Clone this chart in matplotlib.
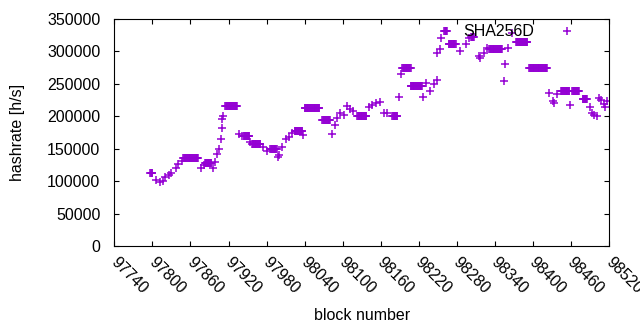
import numpy as np
import matplotlib
matplotlib.use('Agg')
from matplotlib import pyplot as plt
from matplotlib.transforms import ScaledTranslation

# plateaus: consecutive blocks with the same hashrate
plateau_start = [97797, 97849, 97883, 97915, 97944, 97957, 97986, 98024, 98040, 98068,
                 98123, 98178, 98194, 98207, 98260, 98267, 98302, 98331, 98373, 98394,
                 98444, 98462, 98478]
plateau_end = [97800, 97872, 97893, 97933, 97953, 97970, 97996, 98036, 98063, 98080,
               98137, 98186, 98207, 98225, 98264, 98278, 98307, 98351, 98391, 98422,
               98457, 98472, 98485]
plateau_value = [112000, 135200, 127500, 215900, 169600, 157300, 149000, 177300, 212300, 194300,
                 200400, 200400, 274000, 246700, 332000, 311000, 322700, 303300, 314000, 274000,
                 239400, 239000, 226200]

# single blocks between the plateaus
single_block = [97806, 97812, 97816, 97820, 97826, 97830, 97837, 97841, 97846, 97877,
                97881, 97895, 97899, 97902, 97905, 97908, 97909, 97910, 97912, 97937,
                97941, 97954, 97974, 97980, 97998, 98000, 98005, 98011, 98015, 98020,
                98038, 98083, 98088, 98091, 98095, 98102, 98106, 98112, 98116, 98141,
                98146, 98152, 98158, 98165, 98170, 98188, 98191, 98227, 98231, 98238,
                98244, 98248, 98249, 98253, 98255, 98285, 98294, 98299, 98314, 98317,
                98323, 98327, 98354, 98356, 98360, 98366, 98425, 98432, 98433, 98438,
                98458, 98489, 98492, 98496, 98501, 98504, 98507, 98511, 98514, 98517]
single_value = [101800, 98200, 100200, 106800, 109500, 112000, 119800, 126000, 131500, 120700,
                124900, 119800, 130000, 141800, 149000, 164500, 182400, 195800, 200900, 172200,
                169600, 160800, 152200, 147000, 136800, 140300, 153100, 164500, 168500, 174700,
                171000, 172200, 186600, 196900, 204600, 202000, 215900, 210800, 208600, 215000,
                217400, 221000, 222500, 205500, 204600, 229200, 265200, 229200, 250800, 239400,
                249800, 256000, 297100, 303300, 320300, 300700, 311000, 320300, 292900, 289400,
                298000, 304800, 254400, 280100, 304800, 328000, 235400, 223500, 220000, 233900,
                217400, 214000, 205500, 202000, 200400, 227700, 225100, 218900, 214000, 224000]

blocks = list(single_block)
rates = list(single_value)
for s, e, v in zip(plateau_start, plateau_end, plateau_value):
    for b in range(s, e + 1):
        blocks.append(b)
        rates.append(v)
order = np.argsort(blocks)
blocks = np.array(blocks)[order]
rates = np.array(rates)[order]

plt.rcParams['font.family'] = ['Liberation Sans', 'DejaVu Sans']
plt.rcParams['font.size'] = 11.5

fig = plt.figure(figsize=(6.4, 3.3), dpi=100)
ax = fig.add_axes([114.3 / 640, 84 / 330, 495 / 640, 227 / 330])
ax.plot(blocks, rates, linestyle='none', marker='+', color='#9400d3',
        markersize=5.8, markeredgewidth=1.1, label='SHA256D')

ax.set_xlim(97740, 98520)
ax.set_ylim(0, 350000)
ax.set_xticks(np.arange(97740, 98521, 60))
ax.set_yticks(np.arange(0, 350001, 50000))
ax.tick_params(direction='in', length=3.5, width=0.8, top=True, right=True)
ax.tick_params(axis='y', pad=10)
ax.tick_params(axis='x', pad=6)
shift = ScaledTranslation(4 / 100, 0, fig.dpi_scale_trans)
for lab in ax.get_xticklabels():
    lab.set_rotation(-45)
    lab.set_ha('left')
    lab.set_va('top')
    lab.set_rotation_mode('anchor')
    lab.set_transform(lab.get_transform() + shift)
for sp in ax.spines.values():
    sp.set_linewidth(0.8)

ax.set_xlabel('block number', labelpad=8)
ax.set_ylabel('hashrate [h/s]', labelpad=16)

ax.legend(loc='center right', bbox_to_anchor=(0.957, 0.943), frameon=False,
          markerfirst=False, handlelength=2.6, handletextpad=0.8,
          borderpad=0, borderaxespad=0)

fig.savefig('out.png', dpi=100)
